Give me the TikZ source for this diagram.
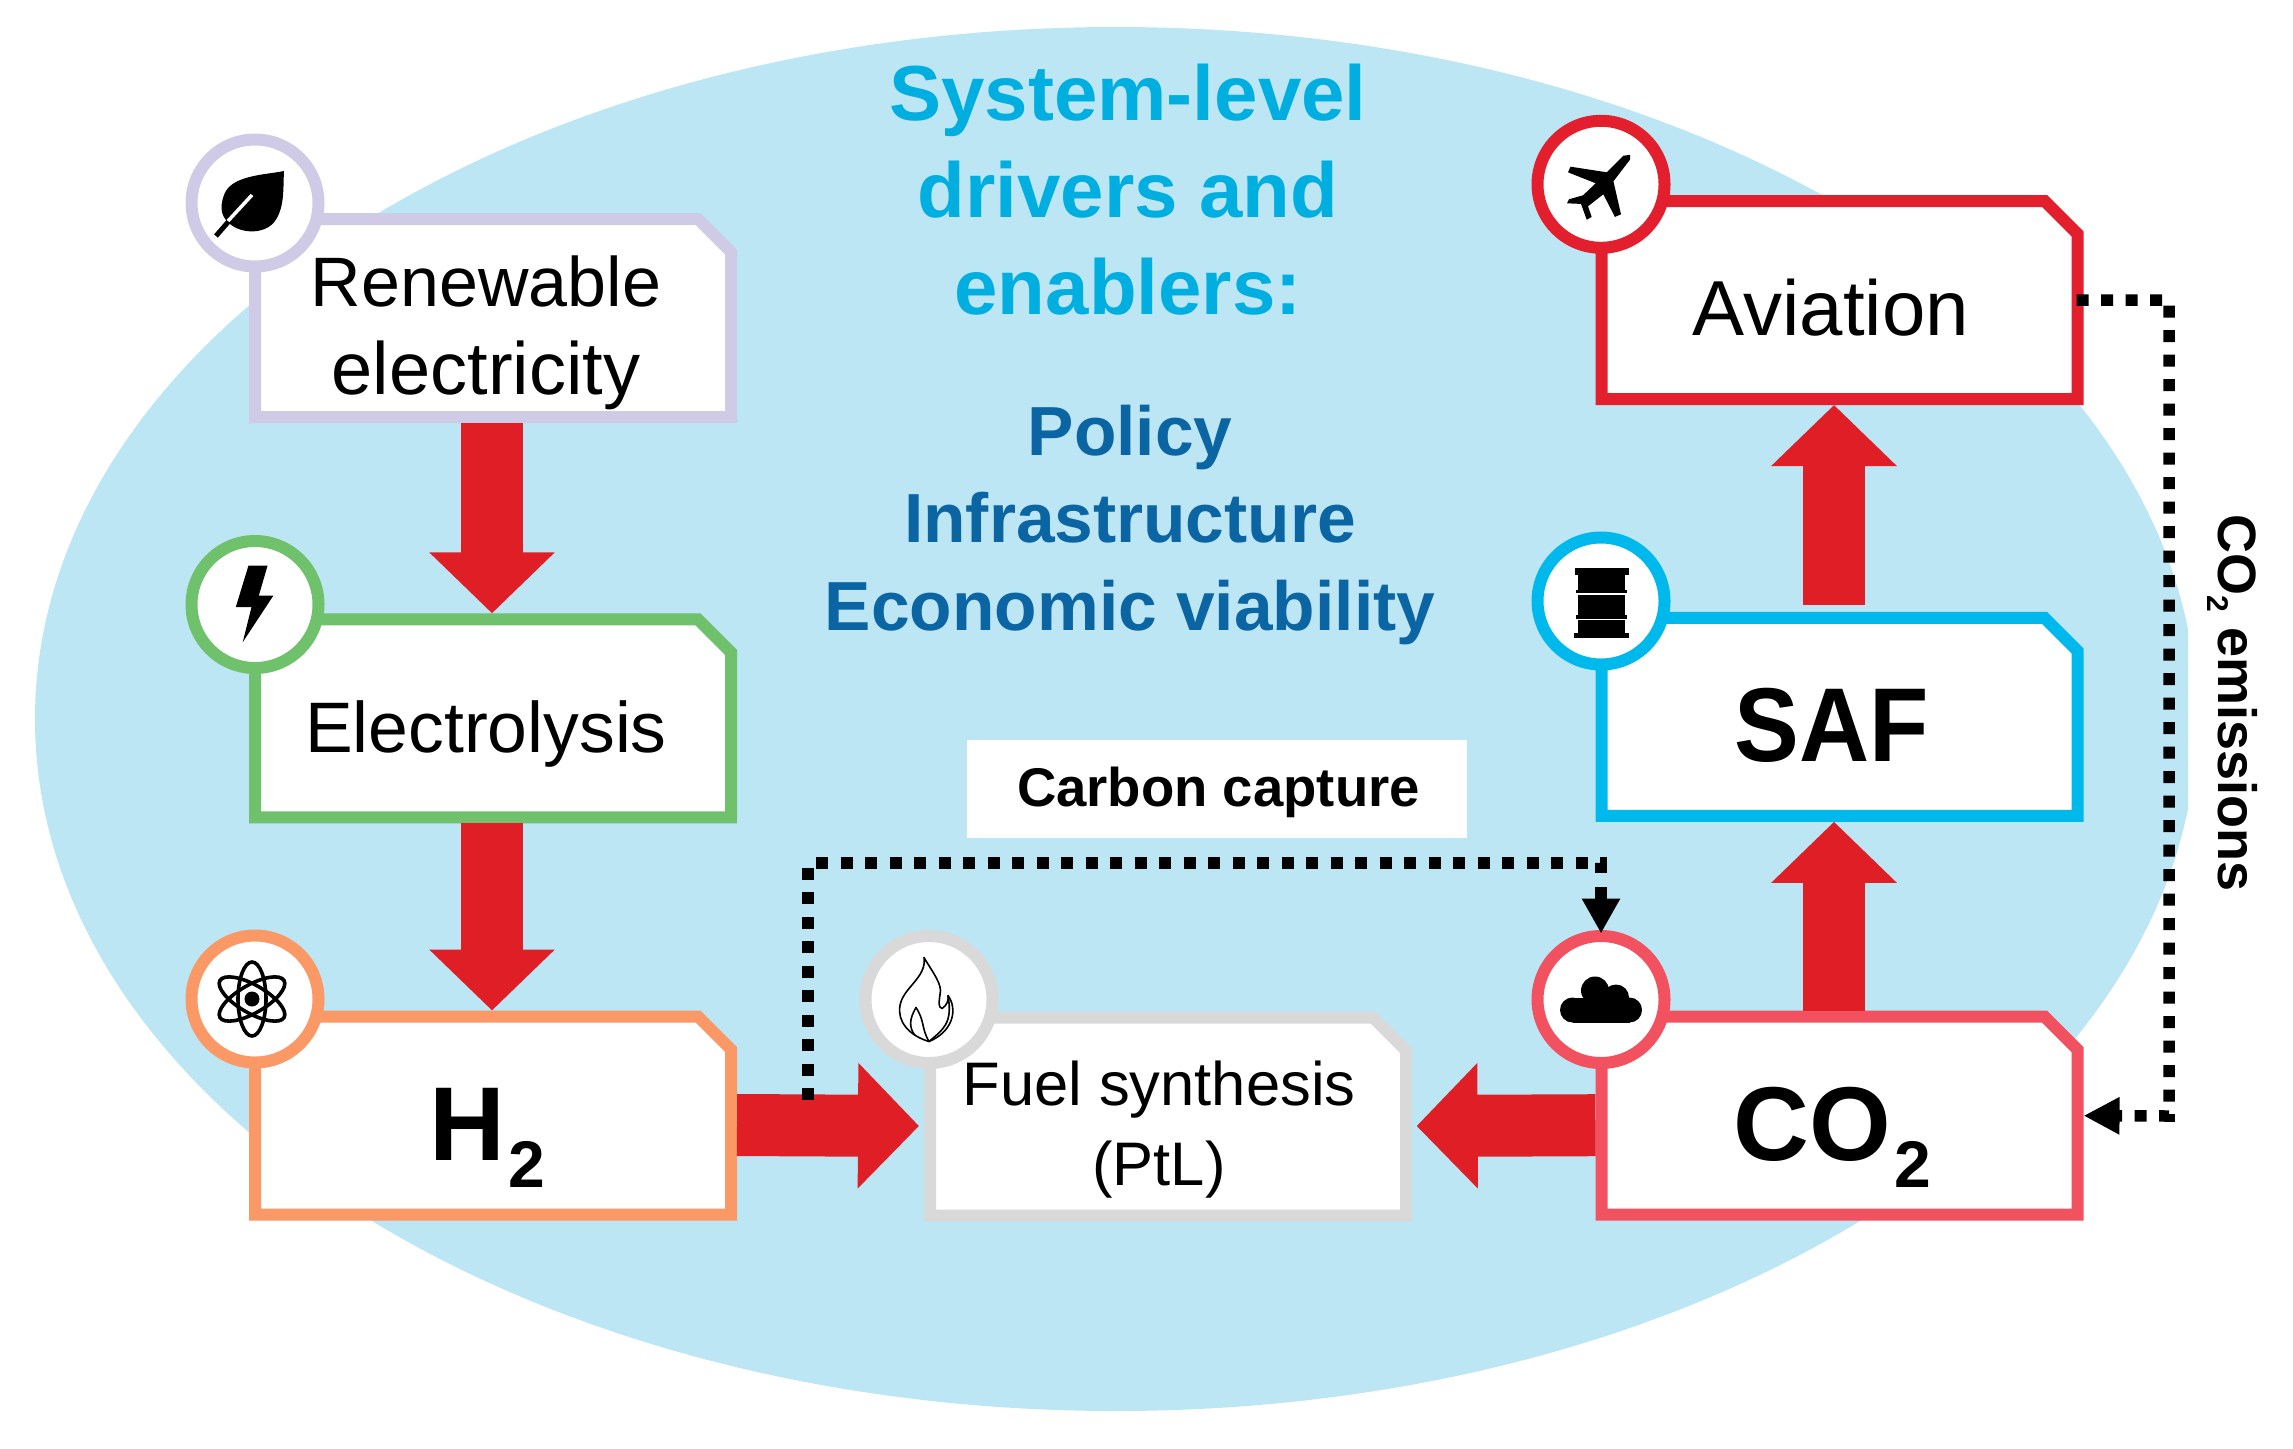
\documentclass[tikz,border=0pt]{standalone}
\usepackage{fontspec}
\usepackage{graphicx}
\setmainfont{Liberation Sans}
\usetikzlibrary{arrows.meta}
\definecolor{bgblue}{HTML}{BDE6F5}
\definecolor{cren}{HTML}{CFCBE6}
\definecolor{cele}{HTML}{70C16B}
\definecolor{chyd}{HTML}{FA9866}
\definecolor{cfue}{HTML}{D9D9D9}
\definecolor{cco}{HTML}{F2525F}
\definecolor{csaf}{HTML}{00B9EC}
\definecolor{cavi}{HTML}{E31E2D}
\definecolor{arrowred}{HTML}{E01E26}
\definecolor{titleblue}{HTML}{00AEDF}
\definecolor{drvblue}{HTML}{0B65A3}
\newcommand{\fsz}[1]{\fontsize{#1}{#1}\selectfont}
\newcommand{\procbox}[3]{%
  \node[boxcore] (#1) at (#2) {};
  \draw[boxline=#3] ([xshift=6pt,yshift=6pt]#1.south west) -- ([xshift=6pt,yshift=-6pt]#1.north west)
    -- ([xshift=-39pt,yshift=-6pt]#1.north east) -- ([xshift=-6pt,yshift=-39pt]#1.north east)
    -- ([xshift=-6pt,yshift=6pt]#1.south east) -- cycle;}
\tikzset{
  boxcore/.style={rectangle,minimum width=476pt,minimum height=198pt,outer sep=6pt,inner sep=0pt},
  boxline/.style={line width=12pt,fill=white,draw=#1},
  iconring/.style={circle,minimum size=127pt,line width=12pt,fill=white,draw=#1,inner sep=0pt},
  blockarrow/.style={line width=62pt,draw=arrowred,-{Triangle[length=61pt,width=122pt]}},
  dotline/.style={line width=11.5pt,draw=black,dash pattern=on 12pt off 12.5pt},
  lab/.style={anchor=base,inner sep=0pt,text=black},
  head/.style={anchor=base,inner sep=0pt,text=titleblue,font=\bfseries\fsz{78}},
  drv/.style={anchor=base,inner sep=0pt,text=drvblue,font=\bfseries\fsz{69.5}},
}
\begin{document}
\begin{tikzpicture}[x=1pt,y=-1pt]
\useasboundingbox (0,0) rectangle (2293,1448);
% background
\begin{scope}
  \clip (0,0) rectangle (2188,1448);
  \fill[bgblue] (1116,719) ellipse [x radius=1081, y radius=692];
\end{scope}
\node[fill=white,minimum width=500pt,minimum height=98pt,inner sep=0pt] (capbg) at (1217,789) {};
% title text
\node[head] (t1) at (1128,120) {System-level};
\node[head] (t2) at (1128,217) {drivers and};
\node[head] (t3) at (1128,314) {enablers:};
\node[drv] (d1) at (1130,455) {Policy};
\node[drv] (d2) at (1130,542) {Infrastructure};
\node[drv] (d3) at (1130,630) {Economic viability};
% boxes
\procbox{ren}{493,318}{cren}
\procbox{ele}{493,718.3}{cele}
\procbox{hyd}{493,1115.5}{chyd}
\procbox{fue}{1168,1116.5}{cfue}
\procbox{co2}{1839.5,1115.7}{cco}
\procbox{saf}{1839.5,716.8}{csaf}
\procbox{avi}{1839.5,300}{cavi}
% block arrows
\draw[blockarrow] ([xshift=-1pt]ren.south) -- ([xshift=-1pt]ele.north);
\draw[blockarrow] ([xshift=-1pt]ele.south) -- ([xshift=-1pt]hyd.north);
\draw[blockarrow] ([yshift=-9.5pt]hyd.east) -- ([xshift=-5pt,yshift=-9.5pt]fue.west);
\draw[blockarrow] ([yshift=-9.5pt]co2.west) -- ([xshift=4.6pt,yshift=-9.5pt]fue.east);
\draw[blockarrow] ([xshift=-5.5pt]co2.north) -- ([xshift=-5.5pt]saf.south);
\draw[blockarrow] ([xshift=-5.5pt,yshift=7pt]saf.north) -- ([xshift=-5.5pt]avi.south);
% rings
\node[iconring=cren] (ir) at (255,203) {};
\node[iconring=cele] (ie) at (255,604.5) {};
\node[iconring=chyd] (ih) at (255,999) {};
\node[iconring=cfue] (if) at (929,999.5) {};
\node[iconring=cco] (ic) at (1601,999.5) {};
\node[iconring=csaf] (is) at (1601,601) {};
\node[iconring=cavi] (ia) at (1601,184.3) {};
% leaf
\begin{scope}[shift={(ir.center)}]
  \fill[black] (29,-32) .. controls (10,-28) and (-24,-28) .. (-31,-8) .. controls (-36,6) and (-33,14) .. (-26,20)
     .. controls (-15,31) and (10,32) .. (20,18) .. controls (30,4) and (28,-16) .. (29,-32) -- cycle;
  \draw[black,line width=5pt] (-39,33) -- (-26,18);
  \draw[white,line width=3.5pt] (-27,18) -- (-3,-8);
\end{scope}
% bolt
\fill[black,shift={(ie.center)}] (-6.5,-39) -- (12.6,-39) -- (3.8,-8.8) -- (18.3,-8.8) -- (-12.3,37.7) -- (-3.5,2.6) -- (-19.2,2.6) -- cycle;
% atom
\begin{scope}[shift={(ih.center)},xshift=-3pt,black,line width=3.6pt]
  \draw (0,0) ellipse [x radius=14,y radius=37];
  \draw[rotate=60] (0,0) ellipse [x radius=14,y radius=37];
  \draw[rotate=-60] (0,0) ellipse [x radius=14,y radius=37];
  \fill (0,0) circle (7.5);
\end{scope}
% flame
\begin{scope}[shift={(if.center)},black,line width=1.6pt,line join=round]
  \draw (-5,-42) .. controls (3,-28) and (14,-15) .. (11,-5) .. controls (10,2) and (9,8) .. (13,9)
    .. controls (18,6) and (20,0) .. (19,-4) .. controls (29,10) and (24,32) .. (0,42)
    .. controls (-20,36) and (-32,22) .. (-29,6) .. controls (-26,-12) and (-2,-22) .. (-5,-42) -- cycle;
  \draw (0,42) .. controls (-8,28) and (-4,22) .. (-13,8) .. controls (-20,20) and (-20,28) .. (-14,36);
  \draw (0,42) .. controls (14,30) and (24,24) .. (19,-4);
\end{scope}
% barrel
\begin{scope}[shift={(is.center)},black]
  \fill (-26.5,-33) rectangle (27.5,-26.5);
  \fill (-23,-26.5) rectangle (24,-11.5);
  \fill (-25,-11.5) rectangle (26,-8);
  \fill (-23,-6) rectangle (24,14);
  \fill (-25,14) rectangle (26,17.5);
  \fill (-23,19) rectangle (24,32);
  \fill (-27,32) rectangle (27.5,37);
\end{scope}
% plane
\fill[black,shift={(ia.center)},line join=round] (29,-29.4) -- (22.4,-28.6) -- (5.8,-12) -- (-30.5,-17.6) -- (-33,-12) -- (-5.3,-1) -- (-18,11) -- (-32,15) -- (-34,19) -- (-20,19.6) -- (-14.3,35.4) -- (-9.3,32.6) -- (-13,22) -- (2.3,10) -- (13.9,32.6) -- (20,30) -- (12.4,-3) -- (29,-24.7) -- cycle;
% cloud
\begin{scope}[shift={(ic.center)},black]
  \fill (-28.5,10.5) circle (12.5);
  \fill (-6,-9) circle (14);
  \fill (15,-2) circle (13);
  \fill (28.5,10.5) circle (12.5);
  \fill (-28.5,-2) rectangle (28.5,23);
\end{scope}
% labels
\node[lab,font=\fsz{70}] (lr1) at (486,306) {Renewable};
\node[lab,font=\fsz{74}] (lr2) at (486,394) {electricity};
\node[lab,font=\fsz{71.5}] (le) at (486,752) {Electrolysis};
\node[lab,font=\fsz{78}] (la) at (1831,335) {Aviation};
\node[lab,font=\fsz{61.5}] (lf1) at (1159,1105) {Fuel synthesis};
\node[lab,font=\fsz{61.5}] (lf2) at (1159,1185) {(PtL)};
\node[lab,font=\bfseries\fsz{105}] (lh) at (487,1160) {H\kern3pt\raisebox{-27pt}{\fsz{66}2}};
\node[lab,font=\bfseries\fsz{105}] (ls) at (1832,761) {\scalebox{0.925}[1]{SAF}};
\node[lab,font=\bfseries\fsz{105}] (lc) at (1832.5,1160) {CO\kern3pt\raisebox{-27pt}{\fsz{66}2}};
\node[lab,font=\bfseries\fsz{54.5}] (lcap) at (1218.5,806) {Carbon capture};
\node[lab,font=\bfseries\fsz{54},rotate=-90] (lem) at (2218,703) {CO\raisebox{-11pt}{\fsz{30}2} emissions};
% dotted connectors
\coordinate (capstart) at (808,1100);
\draw[dotline] (capstart) -- (808,863) -- (1601,863) -- (1601,873);
\draw[dotline,-{Triangle[length=35pt,width=36pt]}] (1601,887) -- ([yshift=-3.5pt]ic.north);
\draw[dotline,-{Triangle[length=36pt,width=35pt]}] ([xshift=-7pt]avi.east) -- (2169,300) -- (2169,1116) -- (co2.east);
\end{tikzpicture}
\end{document}
